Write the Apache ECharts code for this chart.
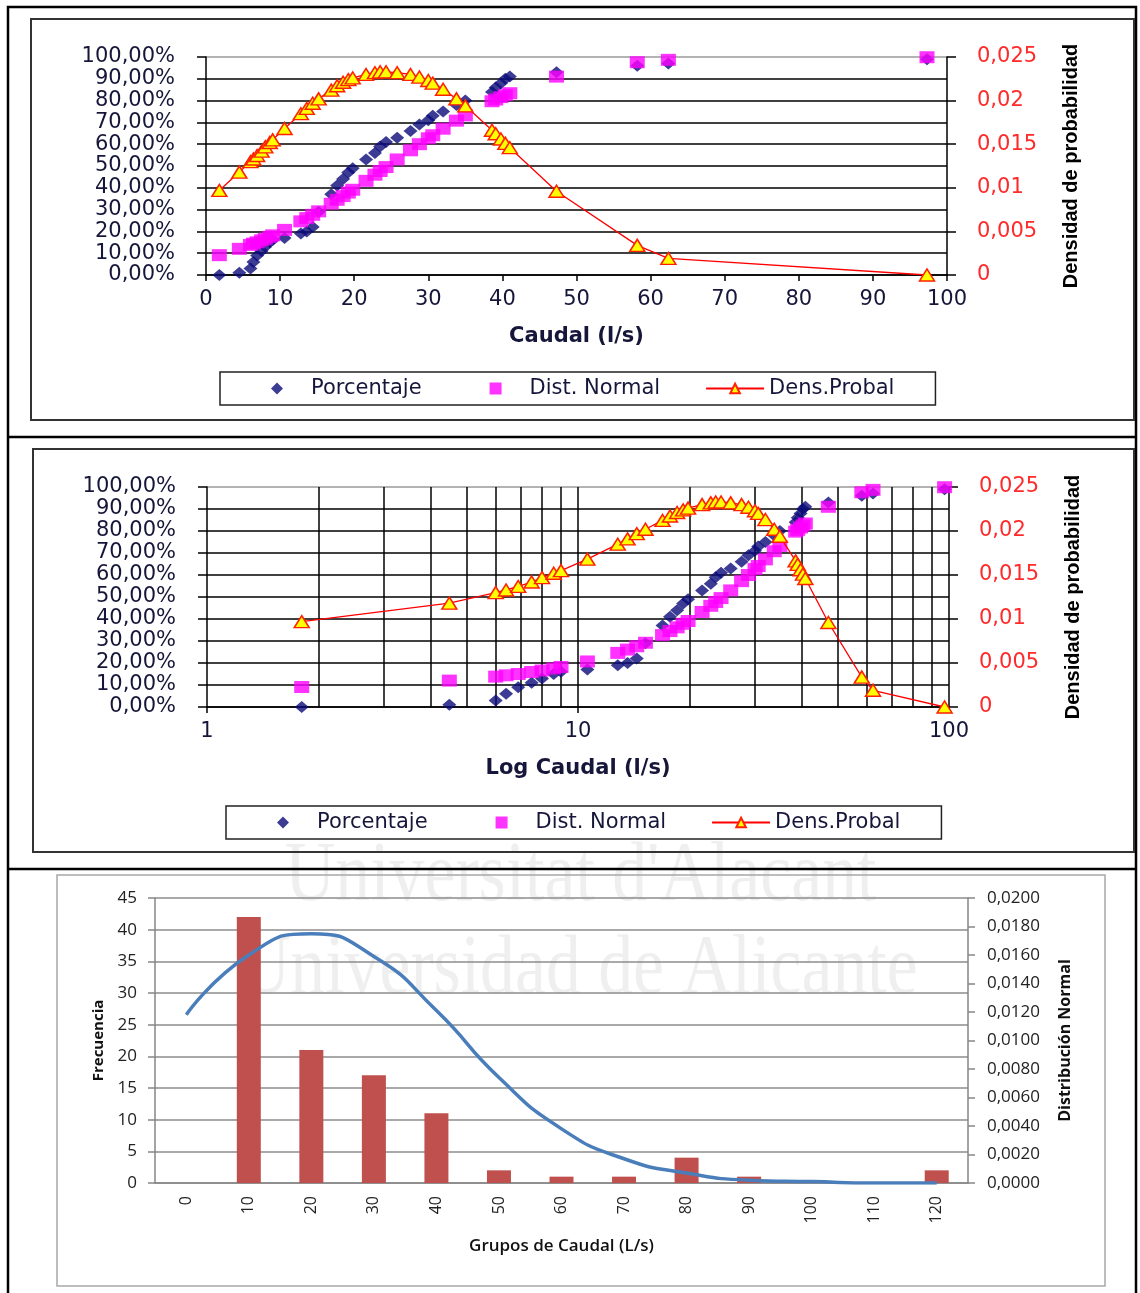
<!DOCTYPE html>
<html>
<head>
<meta charset="utf-8">
<title>Caudal</title>
<script src="https://cdn.jsdelivr.net/npm/echarts@6/dist/echarts.min.js"></script>
<style>
  html, body { margin: 0; padding: 0; background: #fff; }
  #main { width: 1140px; height: 1293px; }
</style>
</head>
<body>
<div id="main"></div>
<script>
// caudal observado (l/s), común a los dos primeros gráficos
var caudal = [1.8, 4.5, 6.0, 6.4, 6.9, 7.5, 8.0, 8.6, 9.0, 10.6,
  12.8, 13.6, 14.4, 15.2, 16.9, 17.7, 18.5, 19.2, 19.8, 21.6,
  22.8, 23.5, 24.3, 25.8, 27.6, 28.8, 30.0, 30.6, 32.0, 33.8,
  35.0, 38.6, 39.1, 39.8, 40.4, 41.0, 47.3, 58.2, 62.4, 97.3];
// porcentaje acumulado (%)
var porcentaje = [0, 1, 3, 6, 9, 11, 13, 15, 16, 17,
  19, 20, 22, 29, 37, 41, 44, 47, 49, 53,
  56, 59, 61, 63, 66, 69, 71, 73, 75, 78,
  80, 84, 86, 88, 90, 91, 93, 96, 97, 99];
// distribución normal acumulada (%)
var distNormal = [9.1, 12.0, 13.8, 14.4, 15.0, 15.9, 16.6, 17.5, 18.2, 20.7,
  24.6, 26.1, 27.6, 29.2, 32.7, 34.5, 36.2, 37.8, 39.1, 43.2,
  46.0, 47.7, 49.5, 53.0, 57.2, 60.0, 62.7, 64.1, 67.1, 70.8,
  73.2, 79.7, 80.5, 81.6, 82.5, 83.4, 91.0, 97.6, 98.7, 99.9];
// densidad de probabilidad
var densProbal = [0.0097, 0.0118, 0.0130, 0.0133, 0.0137, 0.0142, 0.0147, 0.0152, 0.0155, 0.0168,
  0.0185, 0.0191, 0.0197, 0.0202, 0.0212, 0.0217, 0.0221, 0.0224, 0.0226, 0.0230,
  0.0232, 0.0233, 0.0233, 0.0232, 0.0230, 0.0227, 0.0223, 0.0220, 0.0213, 0.0202,
  0.0194, 0.0166, 0.0162, 0.0156, 0.0151, 0.0146, 0.0096, 0.0034, 0.0019, 0.0000];

// histograma
var grupos = ['0', '10', '20', '30', '40', '50', '60', '70', '80', '90', '100', '110', '120'];
var frecuencia = [0, 42, 21, 17, 11, 2, 1, 1, 4, 1, 0, 0, 2];
var distribucion = [0.0118, 0.0160, 0.0175, 0.0159, 0.0121, 0.0074, 0.0038, 0.0017, 0.0007, 0.0002, 0.0001, 0.0000, 0.0000];

// rejilla vertical del eje logaritmico
var logTicks = [2, 3, 4, 5, 6, 7, 8, 9, 10, 20, 30, 40, 50, 60, 70, 80, 90];

var chart = echarts.init(document.getElementById('main'));

var txt = '#16163a';
var fontA = 'DejaVu Sans';
var fontC = 'Open Sans';
var red = '#ff2a2a';

function pairs(ys) {
  return caudal.map(function (x, i) { return [x, ys[i]]; });
}
function pct(v) { return v.toFixed(2).replace('.', ',') + '%'; }
function dens(v) { return v === 0 ? '0' : String(v).replace('.', ','); }

var gridColors = ['#000', '#000', '#000', '#000', '#000', '#000', '#000', '#000', '#000', '#000', '#9a9a9a'];

function leftPct(gi) {
  return {
    gridIndex: gi, type: 'value', min: 0, max: 100, interval: 10, position: 'left',
    axisLine: { show: true, lineStyle: { color: '#000', width: 1.5 } },
    axisTick: { show: true, length: 9, lineStyle: { color: '#000', width: 1.5 } },
    axisLabel: { margin: 31, formatter: pct, fontFamily: fontA, fontSize: 21, color: txt },
    splitLine: { show: true, lineStyle: { color: gridColors, width: 1.5 } }
  };
}
function rightDens(gi) {
  return {
    gridIndex: gi, type: 'value', min: 0, max: 0.025, interval: 0.005, position: 'right',
    axisLine: { show: true, lineStyle: { color: '#000', width: 1.5 } },
    axisTick: { show: true, length: 9, lineStyle: { color: '#000', width: 1.5 } },
    axisLabel: { margin: 30, formatter: dens, fontFamily: fontA, fontSize: 21, color: red },
    splitLine: { show: false },
    name: 'Densidad de probabilidad', nameLocation: 'middle', nameRotate: 90, nameGap: 114,
    nameTextStyle: { fontFamily: 'Liberation Sans', fontSize: 20, fontWeight: 'bold', color: '#000' }
  };
}
function xName(name) {
  return { name: name, nameLocation: 'middle', nameGap: 51,
    nameTextStyle: { fontFamily: fontA, fontSize: 21, fontWeight: 'bold', color: txt } };
}

// iconos de leyenda: el simbolo centrado en una caja de 58 x 12
var iconDiamond = 'path://M0,6L0.01,6ZM58,6L57.99,6ZM23,6L29,0L35,6L29,12Z';
var iconSquare = 'path://M0,6L0.01,6ZM58,6L57.99,6ZM23,0L35,0L35,12L23,12Z';

function legendAt(left, top) {
  return {
    left: left, top: top, orient: 'horizontal',
    padding: [6, 41, 6, 28], itemGap: 45, itemWidth: 58, itemHeight: 12,
    symbolKeepAspect: false,
    borderColor: '#222', borderWidth: 1.5, backgroundColor: '#fff',
    textStyle: { fontFamily: fontA, fontSize: 21, color: txt },
    data: [
      { name: 'Porcentaje', icon: iconDiamond },
      { name: 'Dist. Normal', icon: iconSquare },
      'Dens.Probal'
    ]
  };
}
function threeSeries(xi, yl, yr) {
  return [
    { name: 'Porcentaje', type: 'scatter', xAxisIndex: xi, yAxisIndex: yl,
      symbol: 'diamond', symbolSize: [14, 12], itemStyle: { color: '#0b0b7a' },
      data: pairs(porcentaje) },
    { name: 'Dist. Normal', type: 'scatter', xAxisIndex: xi, yAxisIndex: yl,
      symbol: 'rect', symbolSize: [15, 12], itemStyle: { color: '#ff00ff' },
      data: pairs(distNormal) },
    { name: 'Dens.Probal', type: 'line', xAxisIndex: xi, yAxisIndex: yr,
      symbol: 'triangle', symbolSize: [15, 12], showAllSymbol: true,
      lineStyle: { color: '#ff0000', width: 1.3 },
      itemStyle: { color: '#ffff00', borderColor: '#ff2200', borderWidth: 1.5 },
      data: pairs(densProbal) }
  ];
}

var series = [].concat(threeSeries(0, 0, 1), threeSeries(1, 2, 3));

// rejilla vertical del segundo gráfico
series.push({
  name: 'rejilla', type: 'line', xAxisIndex: 1, yAxisIndex: 2, data: [], silent: true,
  markLine: {
    silent: true, z: 1, symbol: 'none', label: { show: false },
    lineStyle: { color: '#000', width: 1.5, type: 'solid' },
    data: logTicks.map(function (v) { return { xAxis: v }; })
  }
});

series.push({
  name: 'Frecuencia', type: 'bar', xAxisIndex: 2, yAxisIndex: 4,
  barWidth: 24, itemStyle: { color: '#c0504d' }, data: frecuencia
});
series.push({
  name: 'Distribución Normal', type: 'line', xAxisIndex: 2, yAxisIndex: 5,
  smooth: 0.55, symbol: 'none', lineStyle: { color: '#4a7ebb', width: 3.5 },
  data: distribucion
});

var option = {
  animation: false,
  backgroundColor: '#fff',
  graphic: [
    { type: 'text', x: 285, y: 878, scaleX: 0.83, silent: true, z: -5,
      style: { text: "Universitat d'Alacant", font: '84px "Liberation Serif"', fill: '#efefef', verticalAlign: 'middle' } },
    { type: 'text', x: 240, y: 971, scaleX: 0.83, silent: true, z: -5,
      style: { text: 'Universidad de Alicante', font: '84px "Liberation Serif"', fill: '#efefef', verticalAlign: 'middle' } },
    { type: 'rect', silent: true, shape: { x: 8, y: 7, width: 1128, height: 1310 },
      style: { fill: null, stroke: '#000', lineWidth: 2.5 } },
    { type: 'line', silent: true, shape: { x1: 8, y1: 437, x2: 1136, y2: 437 },
      style: { stroke: '#000', lineWidth: 2.5 } },
    { type: 'line', silent: true, shape: { x1: 8, y1: 869, x2: 1136, y2: 869 },
      style: { stroke: '#000', lineWidth: 2.5 } },
    { type: 'rect', silent: true, shape: { x: 31, y: 19, width: 1103, height: 401 },
      style: { fill: null, stroke: '#333', lineWidth: 2 } },
    { type: 'rect', silent: true, shape: { x: 33, y: 449, width: 1101, height: 403 },
      style: { fill: null, stroke: '#333', lineWidth: 2 } },
    { type: 'rect', silent: true, shape: { x: 57, y: 875, width: 1048, height: 411 },
      style: { fill: null, stroke: '#a8a8a8', lineWidth: 1.5 } }
  ],
  legend: [legendAt(220, 372), legendAt(226, 806)],
  grid: [
    { left: 206, top: 57, width: 741, height: 218 },
    { left: 207, top: 487, width: 742, height: 220 },
    { left: 155, top: 898, width: 813, height: 285 }
  ],
  xAxis: [
    Object.assign({
      gridIndex: 0, type: 'value', min: 0, max: 100, interval: 10,
      axisLine: { lineStyle: { color: '#000', width: 1.5 } },
      axisTick: { length: 6, lineStyle: { color: '#000', width: 1.5 } },
      axisLabel: { margin: 14, fontFamily: fontA, fontSize: 21, color: txt },
      splitLine: { show: false }
    }, xName('Caudal (l/s)')),
    Object.assign({
      gridIndex: 1, type: 'log', logBase: 10, min: 1, max: 100,
      axisLine: { lineStyle: { color: '#000', width: 1.5 } },
      axisTick: { length: 6, lineStyle: { color: '#000', width: 1.5 } },
      axisLabel: { margin: 14, fontFamily: fontA, fontSize: 21, color: txt },
      splitLine: { show: false }, minorTick: { show: false }
    }, xName('Log Caudal (l/s)')),
    {
      gridIndex: 2, type: 'category', data: grupos,
      axisLine: { lineStyle: { color: '#868686', width: 1.5 } },
      axisTick: { length: 7, lineStyle: { color: '#868686', width: 1.5 } },
      axisLabel: { rotate: 90, margin: 13, fontFamily: fontC, fontSize: 16, color: '#222' },
      name: 'Grupos de Caudal (L/s)', nameLocation: 'middle', nameGap: 55,
      nameTextStyle: { fontFamily: fontC, fontSize: 17, fontWeight: 600, color: '#111' }
    }
  ],
  yAxis: [
    leftPct(0), rightDens(0), leftPct(1), rightDens(1),
    {
      gridIndex: 2, type: 'value', min: 0, max: 45, interval: 5, position: 'left',
      axisLine: { show: true, lineStyle: { color: '#868686', width: 1.5 } },
      axisTick: { show: true, length: 7, lineStyle: { color: '#868686', width: 1.5 } },
      axisLabel: { margin: 18, fontFamily: fontC, fontSize: 17, color: '#222' },
      splitLine: { show: true, lineStyle: { color: '#8c8c8c', width: 1.5 } },
      name: 'Frecuencia', nameLocation: 'middle', nameRotate: 90, nameGap: 49,
      nameTextStyle: { fontFamily: fontC, fontSize: 15, fontWeight: 'bold', color: '#111' }
    },
    {
      gridIndex: 2, type: 'value', min: 0, max: 0.02, interval: 0.002, position: 'right',
      axisLine: { show: true, lineStyle: { color: '#868686', width: 1.5 } },
      axisTick: { show: true, length: 7, lineStyle: { color: '#868686', width: 1.5 } },
      axisLabel: { margin: 19, fontFamily: fontC, fontSize: 17, color: '#222',
        formatter: function (v) { return v.toFixed(4).replace('.', ','); } },
      splitLine: { show: false },
      name: 'Distribución Normal', nameLocation: 'middle', nameRotate: 90, nameGap: 89,
      nameTextStyle: { fontFamily: fontC, fontSize: 16, fontWeight: 'bold', color: '#111' }
    }
  ],
  series: series
};

chart.setOption(option);
window.addEventListener('resize', function () { chart.resize(); });
</script>
</body>
</html>
